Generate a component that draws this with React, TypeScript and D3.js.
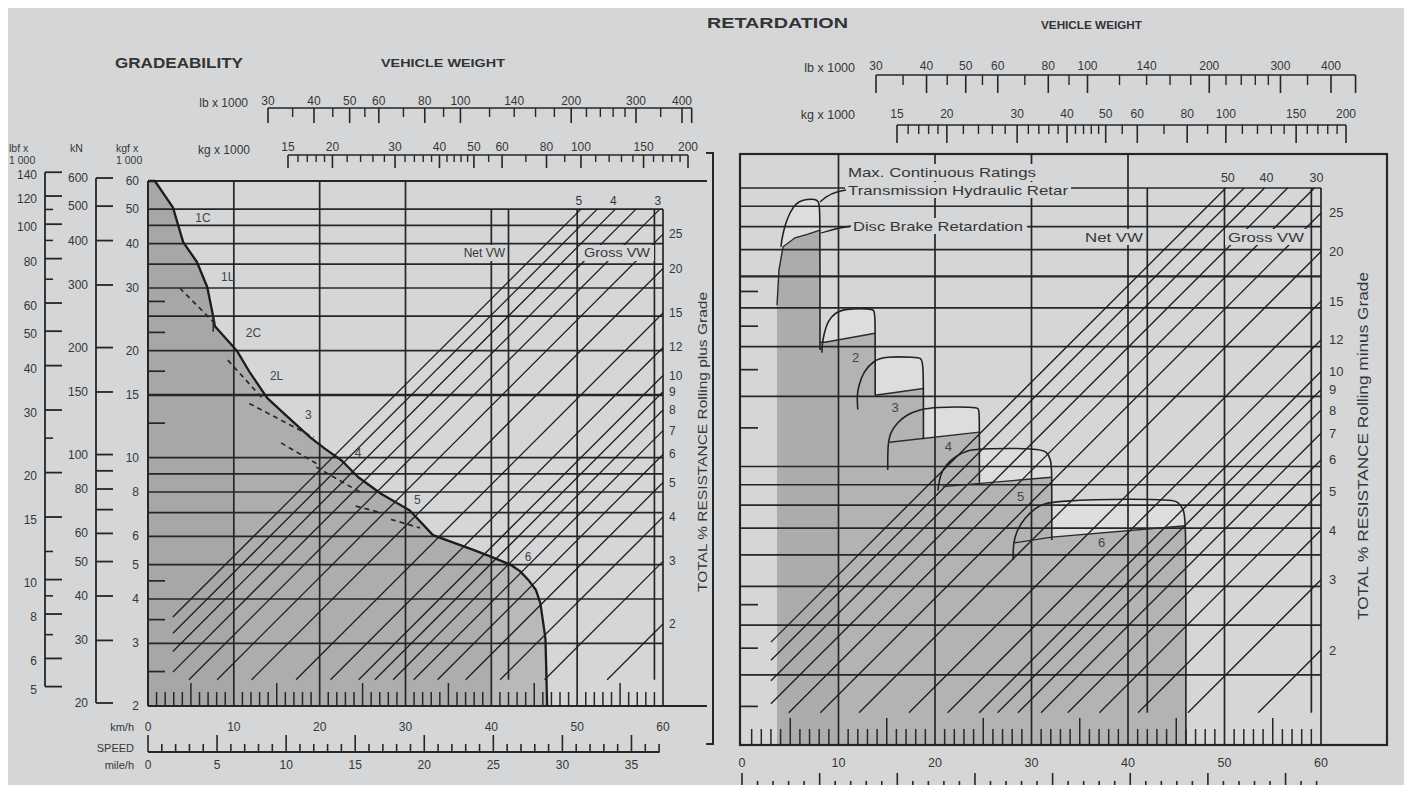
import React from "react";
import * as d3 from "d3";

type P = [number, number];

// ---------------- DATA ----------------
const kmhLabels = [0, 10, 20, 30, 40, 50, 60];
const mphLabels = [0, 5, 10, 15, 20, 25, 30, 35];
const gridForce = [50, 45, 40, 35, 30, 25, 20, 15, 10, 9, 8, 7, 6, 5, 4, 3];
const forceLabels = [60, 50, 40, 30, 20, 15, 10, 8, 6, 5, 4, 3, 2];
const forceMinor = [27.5, 22.5, 17.5, 12.5, 4.5, 3.5, 2.5];
const kNLabels = [600, 500, 400, 300, 200, 150, 100, 80, 60, 50, 40, 30, 20];
const kNMinor = [90, 70];
const lbfLabels = [140, 120, 100, 80, 60, 50, 40, 30, 20, 15, 10, 8, 6, 5];
const lbfMinor = [110, 90, 70, 25, 12, 9, 7];
const lbLabels = [30, 40, 50, 60, 80, 100, 140, 200, 300, 400];
const lbMajorTicks = [30, 40, 50, 60, 80, 100, 200, 300, 400];
const lbMinorTicks = [35, 45, 55, 70, 90, 120, 140, 160, 180, 220, 240, 260, 280, 350];
const kgLabels = [15, 20, 30, 40, 50, 60, 80, 100, 150, 200];
const kgMinorTicks = [16, 17, 18, 19, 22, 24, 26, 28, 32, 34, 36, 38, 42, 44, 46, 48, 55, 70, 90, 110, 120, 130, 140, 160, 170, 180, 190];
const resistancePct = [50, 45, 40, 35, 30, 25, 20, 15, 12, 10, 9, 8, 7, 6, 5, 4, 3, 2];
const resistanceSideLabels = [25, 20, 15, 12, 10, 9, 8, 7, 6, 5, 4, 3, 2];
const gradeTopLabels: [number, string][] = [[50, "5"], [40, "4"], [30, "3"]];
const retardTopLabels: [number, string][] = [[50, "50"], [40, "40"], [30, "30"]];

// Gradeability rimpull envelope (km/h, kgf x 1000)
const rimpullCurve: P[] = [
  [0, 60], [0.8, 60], [2.9, 50.6], [4.1, 40.4], [5.7, 35.5], [6.9, 30.2], [7.6, 24.9], [7.8, 23.4],
  [10.4, 19.9], [11.9, 17.3], [13.9, 14.7], [16.3, 13.0], [18.9, 11.4], [20.6, 10.6], [22.6, 9.8],
  [24.5, 8.8], [27.2, 7.9], [30.5, 7.1], [33.2, 6.05], [37.9, 5.5], [39.8, 5.28], [42.2, 5.0],
  [43.3, 4.8], [44.4, 4.5], [45.2, 4.24], [45.7, 3.9], [46.0, 3.49], [46.3, 3.1], [46.4, 2.53], [46.5, 2.0],
];
// Dashed (converter drive) segments
const converterSegments: P[][] = [
  [[3.7, 30.0], [7.6, 24.1]],
  [[9.3, 18.8], [13.3, 14.7]],
  [[11.8, 14.2], [19.3, 11.4]],
  [[15.5, 11.0], [20.0, 9.5]],
  [[19.6, 9.4], [24.9, 7.95]],
  [[24.2, 7.3], [26.8, 7.03]],
  [[28.3, 6.7], [31.7, 6.34]],
];
const shiftMark: P[] = [[7.6, 25.4], [7.6, 22.6]];
const gradeGearLabels: [string, number, number][] = [
  ["1C", 5.5, 47.2], ["1L", 8.5, 32.2], ["2C", 11.4, 22.4], ["2L", 14.2, 17.0],
  ["3", 18.3, 13.2], ["4", 24.1, 10.3], ["5", 31.0, 7.6], ["6", 43.9, 5.25],
];

// Retardation: transmission hydraulic retarder outlines (km/h, kgf x 1000)
const hydraulicOutlines: P[][] = [
  [[4.04, 35.6], [4.15, 37.5], [4.46, 40.4], [4.97, 43.5], [5.6, 45.8], [6.32, 46.7], [7.25, 46.9], [7.77, 46.7], [7.98, 45.9], [8.08, 44.0], [8.08, 30], [8.08, 19.6]],
  [[8.29, 19.3], [8.29, 20.1], [8.5, 21.6], [8.9, 23.2], [9.64, 24.3], [10.67, 24.9], [13.26, 24.9], [13.7, 24.7], [13.8, 23.9], [13.8, 18], [13.8, 15.1]],
  [[12.0, 13.9], [11.9, 15.0], [12.1, 16.0], [12.6, 17.3], [13.6, 18.4], [14.8, 18.9], [18.1, 18.8], [18.5, 18.7], [18.8, 18.3], [18.8, 14], [18.8, 11.7]],
  [[15.1, 9.8], [15.1, 11.4], [15.4, 12.2], [16.1, 12.9], [17.1, 13.5], [18.4, 13.9], [20.0, 14.1], [24.1, 14.1], [24.5, 14.0], [24.6, 13.7], [24.6, 11], [24.6, 9.1]],
  [[20.3, 8.7], [20.5, 9.5], [21.1, 10.1], [22.1, 10.6], [23.4, 11.0], [25.0, 11.1], [30.7, 11.1], [31.6, 10.9], [32.0, 10.4], [32.1, 9.8], [32.1, 8], [32.1, 6.54]],
  [[28.1, 5.83], [28.1, 6.43], [28.5, 6.93], [29.3, 7.43], [30.4, 7.87], [31.7, 8.24], [44.4, 8.3], [45.2, 8.15], [45.8, 7.8], [46.0, 7.2], [46.0, 4], [46.0, 2.0]],
];
// Disc brake retardation tops per gear
const discBrakeTops: P[][] = [
  [[3.63, 25.4], [3.83, 31.1], [4.25, 35.6], [5.49, 37.5], [6.84, 38.3], [8.08, 39.2]],
  [[8.08, 20.5], [8.6, 20.5], [13.8, 21.6]],
  [[13.8, 15.1], [18.8, 15.7]],
  [[15.3, 11.5], [24.6, 12.2]],
  [[20.8, 8.9], [32.1, 9.4]],
  [[28.2, 6.43], [32.1, 6.65], [46.0, 7.1]],
];
const retardGearLabels: [string, number, number][] = [
  ["2", 11.4, 18.8], ["3", 15.5, 14.1], ["4", 21.0, 11.2], ["5", 28.5, 8.4], ["6", 36.9, 6.43],
];

// ---------------- STYLE ----------------
const FONT = "'Liberation Sans', Arial, Helvetica, sans-serif";
const INK = "#262626";
const TXT = "#363636";
const BG = "#d5d6d8";

const Txt = ({ x, y, children, size = 12, anchor = "middle", weight = "normal", fill = TXT, len, transform }: any) => (
  <text
    x={x}
    y={y}
    fontSize={size}
    textAnchor={anchor}
    fontWeight={weight}
    fill={fill}
    fontFamily={FONT}
    dominantBaseline="central"
    transform={transform}
    {...(len ? { textLength: len, lengthAdjust: "spacingAndGlyphs" } : {})}
  >
    {children}
  </text>
);

function diagonals(kgX: any, yS: any, xS: any, vMin: number, fMin: number, fMax: number) {
  const xMax = xS(60), xMin = xS(vMin);
  const wLeft = kgX.invert(xMin), wRight = kgX.invert(xMax);
  return resistancePct.map((r) => {
    const wlo = Math.max(wLeft, (fMin * 100) / r);
    const whi = Math.min(wRight, (fMax * 100) / r);
    return {
      r,
      x1: kgX(wlo), y1: yS((r * wlo) / 100),
      x2: kgX(whi), y2: yS((r * whi) / 100),
      rightY: yS((r * wRight) / 100),
    };
  });
}

export default function App() {
  const xL = d3.scaleLinear().domain([0, 60]).range([148, 663]);
  const yL = d3.scaleLog().domain([2, 60]).range([706, 181]);
  const kgXL = d3.scaleLog().domain([15, 200]).range([288, 688]);
  const lbXL = d3.scaleLog().domain([30, 400]).range([268, 682]);

  const xR = d3.scaleLinear().domain([0, 60]).range([742, 1321]);
  const yR = d3.scaleLog().domain([2, 50]).range([745, 188]);
  const kgXR = d3.scaleLog().domain([15, 200]).range([897, 1346]);
  const lbXR = d3.scaleLog().domain([30, 400]).range([876, 1331]);

  const mk = (xs: any, ys: any, curve: any = d3.curveLinear) =>
    d3.line<P>().x((d) => xs(d[0])).y((d) => ys(d[1])).curve(curve);

  const diagL = diagonals(kgXL, yL, xL, 2.9, 2.37, 50);
  const diagR = diagonals(kgXR, yR, xR, 3.0, 2.41, 50);

  const leftFill = mk(xL, yL)([...rimpullCurve, [0, 2]]) + "Z";
  const gearFills = discBrakeTops.map((t) => mk(xR, yR)([[t[0][0], 2], ...t, [t[t.length - 1][0], 2]]) + "Z");

  const speedTicks = d3.range(1, 60).filter((v) => v % 10 !== 0);
  const mphL = d3.range(0, 38).filter((m) => xL(m * 1.609344) <= 662);
  const mphR = d3.range(0, 38).filter((m) => xR(m * 1.609344) <= 1321);

  const gridStroke = 1.7;

  const weightAxis = (lbX: any, kgX: any, lbY: number, kgY: number, lbEnd: number, long: number, short: number, lbLong: number, lbShort: number, kgLabelY: number, lbLabelY: number) => (
    <g>
      <line x1={lbX(30)} x2={lbX(lbEnd)} y1={lbY} y2={lbY} stroke={INK} strokeWidth={1.6} />
      {[...lbMajorTicks, lbEnd].map((v) => (
        <line key={"lbM" + v} x1={lbX(v)} x2={lbX(v)} y1={lbY} y2={lbY + lbLong} stroke={INK} strokeWidth={1.6} />
      ))}
      {lbMinorTicks.map((v) => (
        <line key={"lbm" + v} x1={lbX(v)} x2={lbX(v)} y1={lbY} y2={lbY + lbShort} stroke={INK} strokeWidth={1.4} />
      ))}
      {lbLabels.map((v) => (
        <Txt key={"lbl" + v} x={lbX(v)} y={lbLabelY} size={12}>{v}</Txt>
      ))}
      <line x1={kgX(15)} x2={kgX(200)} y1={kgY} y2={kgY} stroke={INK} strokeWidth={1.6} />
      {kgLabels.map((v) => (
        <line key={"kgM" + v} x1={kgX(v)} x2={kgX(v)} y1={kgY} y2={kgY + long} stroke={INK} strokeWidth={1.6} />
      ))}
      {kgMinorTicks.map((v) => (
        <line key={"kgm" + v} x1={kgX(v)} x2={kgX(v)} y1={kgY} y2={kgY + short} stroke={INK} strokeWidth={1.4} />
      ))}
      {kgLabels.map((v) => (
        <Txt key={"kgl" + v} x={kgX(v)} y={kgLabelY} size={12}>{v}</Txt>
      ))}
    </g>
  );

  return (
    <svg width={1404} height={785} style={{ position: "absolute", left: 0, top: 0, display: "block" }}>
      <rect x={0} y={0} width={1404} height={785} fill="#ffffff" />
      <rect x={8} y={8} width={1396} height={777} fill={BG} />
      <defs>
        <clipPath id="clipL"><path d={leftFill} /></clipPath>
        <clipPath id="clipR">
          {gearFills.map((d, i) => <path key={i} d={d} />)}
        </clipPath>
      </defs>

      {/* ================= LEFT: GRADEABILITY ================= */}
      <Txt x={115} y={63} size={14} weight="bold" anchor="start" len={128} fill="#333">GRADEABILITY</Txt>
      <Txt x={381} y={63} size={11} weight="bold" anchor="start" len={124} fill="#333">VEHICLE WEIGHT</Txt>
      <Txt x={248} y={103} size={12} anchor="end">lb x 1000</Txt>
      <Txt x={250} y={150} size={12} anchor="end">kg x 1000</Txt>
      <Txt x={9} y={148} size={10.5} anchor="start">lbf x</Txt>
      <Txt x={9} y={160} size={10.5} anchor="start">1 000</Txt>
      <Txt x={70} y={148} size={10.5} anchor="start">kN</Txt>
      <Txt x={116} y={148} size={10.5} anchor="start">kgf x</Txt>
      <Txt x={116} y={160} size={10.5} anchor="start">1 000</Txt>
      {weightAxis(lbXL, kgXL, 108, 155, 425, 13, 7, 15, 9, 147, 101)}

      {/* fill */}
      <g clipPath="url(#clipL)">
        <rect x={xL(0)} y={yL(60)} width={xL(10) - xL(0)} height={yL(2) - yL(60)} fill="#a7a7a7" />
        <rect x={xL(10)} y={yL(60)} width={xL(40) - xL(10)} height={yL(2) - yL(60)} fill="#adadad" />
        <rect x={xL(40)} y={yL(60)} width={xL(50) - xL(40)} height={yL(2) - yL(60)} fill="#b9b9b9" />
      </g>

      {/* horizontal grid */}
      {gridForce.map((f) => (
        <line key={"gL" + f} x1={xL(0)} x2={xL(60)} y1={yL(f)} y2={yL(f)} stroke={INK} strokeWidth={f === 15 ? 2.3 : gridStroke} />
      ))}
      <line x1={xL(0)} x2={707} y1={yL(60)} y2={yL(60)} stroke={INK} strokeWidth={2} />
      <line x1={xL(0)} x2={707} y1={yL(2)} y2={yL(2)} stroke={INK} strokeWidth={2.2} />
      <line x1={xL(0)} x2={xL(0)} y1={yL(60)} y2={yL(2)} stroke={INK} strokeWidth={2} />
      {forceMinor.map((f) => (
        <line key={"mL" + f} x1={xL(0)} x2={xL(0) + 17} y1={yL(f)} y2={yL(f)} stroke={INK} strokeWidth={1.7} />
      ))}
      {/* verticals */}
      {[10, 20, 30].map((v) => (
        <line key={"vL" + v} x1={xL(v)} x2={xL(v)} y1={yL(60)} y2={yL(2)} stroke={INK} strokeWidth={gridStroke} />
      ))}
      {[40, 50, 60].map((v) => (
        <line key={"vL" + v} x1={xL(v)} x2={xL(v)} y1={yL(50)} y2={yL(2)} stroke={INK} strokeWidth={gridStroke} />
      ))}
      {[42, 59].map((v) => (
        <line key={"vL" + v} x1={xL(v)} x2={xL(v)} y1={yL(50)} y2={yL(2.37)} stroke={INK} strokeWidth={gridStroke} />
      ))}
      {/* speed ticks */}
      {speedTicks.map((v) => (
        <line key={"sL" + v} x1={xL(v)} x2={xL(v)} y1={yL(2)} y2={yL(2) - (v % 5 === 0 ? 23 : 14)} stroke={INK} strokeWidth={1.5} />
      ))}
      {/* diagonals */}
      {diagL.map((d) => (
        <line key={"dL" + d.r} x1={d.x1} y1={d.y1} x2={d.x2} y2={d.y2} stroke="#1e1e1e" strokeWidth={1.3} />
      ))}
      {gradeTopLabels.map(([r, t]) => (
        <Txt key={"tL" + r} x={kgXL(5000 / r) - 2} y={yL(50) - 8} size={12}>{t}</Txt>
      ))}
      {diagL.filter((d) => resistanceSideLabels.includes(d.r)).map((d) => (
        <Txt key={"rL" + d.r} x={669} y={d.rightY} size={12} anchor="start">{d.r}</Txt>
      ))}
      {/* Net / Gross VW */}
      <rect x={453} y={245} width={54} height={16} fill={BG} />
      <Txt x={505} y={253} size={12} anchor="end">Net VW</Txt>
      <rect x={581} y={245} width={73} height={16} fill={BG} />
      <Txt x={584} y={253} size={12} anchor="start" len={66}>Gross VW</Txt>

      {/* curves */}
      <path d={mk(xL, yL)(rimpullCurve) || ""} fill="none" stroke="#1c1c1c" strokeWidth={2.3} strokeLinejoin="round" />
      {converterSegments.map((s, i) => (
        <path key={"cs" + i} d={mk(xL, yL)(s) || ""} fill="none" stroke="#2a2a2a" strokeWidth={1.7} strokeDasharray="5,4" />
      ))}
      <path d={mk(xL, yL)(shiftMark) || ""} stroke="#2a2a2a" strokeWidth={1.5} />
      {gradeGearLabels.map(([t, v, f]) => (
        <Txt key={"gg" + t} x={xL(v)} y={yL(f)} size={12} anchor="start" fill="#444">{t}</Txt>
      ))}

      {/* left axes */}
      {forceLabels.map((f) => (
        <Txt key={"fl" + f} x={139} y={yL(f)} size={12} anchor="end">{f}</Txt>
      ))}
      <line x1={96} x2={96} y1={yL(600 / 9.807)} y2={yL(20 / 9.807)} stroke={INK} strokeWidth={1.8} />
      {[...kNLabels, ...kNMinor].map((v) => (
        <line key={"kn" + v} x1={96} x2={113} y1={yL(v / 9.807)} y2={yL(v / 9.807)} stroke={INK} strokeWidth={1.8} />
      ))}
      {kNLabels.map((v) => (
        <Txt key={"knl" + v} x={88} y={yL(v / 9.807)} size={12} anchor="end">{v}</Txt>
      ))}
      <line x1={45} x2={45} y1={yL(140 * 0.45359)} y2={yL(5 * 0.45359)} stroke={INK} strokeWidth={1.8} />
      {lbfLabels.map((v) => (
        <line key={"lbf" + v} x1={45} x2={62} y1={yL(v * 0.45359)} y2={yL(v * 0.45359)} stroke={INK} strokeWidth={1.8} />
      ))}
      {lbfMinor.map((v) => (
        <line key={"lbfm" + v} x1={45} x2={53} y1={yL(v * 0.45359)} y2={yL(v * 0.45359)} stroke={INK} strokeWidth={1.6} />
      ))}
      {lbfLabels.map((v) => (
        <Txt key={"lbfl" + v} x={37} y={yL(v * 0.45359) + 3} size={12} anchor="end">{v}</Txt>
      ))}

      {/* bottom speed axes */}
      {kmhLabels.map((v) => (
        <Txt key={"kmL" + v} x={xL(v)} y={727} size={12}>{v}</Txt>
      ))}
      <Txt x={134} y={727} size={11} anchor="end">km/h</Txt>
      <Txt x={134} y={748} size={11} anchor="end">SPEED</Txt>
      <Txt x={134} y={765} size={11} anchor="end">mile/h</Txt>
      <line x1={xL(0)} x2={xL(59.6)} y1={752} y2={752} stroke={INK} strokeWidth={1.8} />
      {mphL.map((m) => (
        <line key={"mpL" + m} x1={xL(m * 1.609344)} x2={xL(m * 1.609344)} y1={752} y2={752 - (m % 5 === 0 ? 17 : 8)} stroke={INK} strokeWidth={1.6} />
      ))}
      {mphLabels.map((m) => (
        <Txt key={"mlL" + m} x={xL(m * 1.609344)} y={765} size={12}>{m}</Txt>
      ))}

      {/* right side title + bracket */}
      <Txt x={703} y={442} size={12.5} len={300} transform="rotate(-90 703 442)">TOTAL % RESISTANCE Rolling plus Grade</Txt>
      <path d="M706,153 H713 V744 H706" fill="none" stroke={INK} strokeWidth={2} />

      {/* ================= RIGHT: RETARDATION ================= */}
      <Txt x={707} y={23} size={14} weight="bold" anchor="start" len={141} fill="#333">RETARDATION</Txt>
      <Txt x={1041} y={25} size={11} weight="bold" anchor="start" len={101} fill="#333">VEHICLE WEIGHT</Txt>
      <Txt x={855} y={68} size={12.5} anchor="end">lb x 1000</Txt>
      <Txt x={855} y={115} size={12.5} anchor="end">kg x 1000</Txt>
      {weightAxis(lbXR, kgXR, 75, 125, 460, 18, 9, 18, 10, 114, 66)}

      {/* light interiors of hydraulic retarder outlines */}
      {hydraulicOutlines.map((o, i) => (
        <path key={"hi" + i} d={(mk(xR, yR, d3.curveBasis)(o) || "") + "Z"} fill="#dcdddf" stroke="none" />
      ))}
      {/* fills */}
      <g clipPath="url(#clipR)">
        <rect x={xR(0)} y={yR(50)} width={xR(10) - xR(0)} height={yR(2) - yR(50)} fill="#acacac" />
        <rect x={xR(10)} y={yR(50)} width={xR(50) - xR(10)} height={yR(2) - yR(50)} fill="#b3b3b3" />
      </g>

      {gridForce.map((f) => (
        <line key={"gR" + f} x1={740} x2={xR(60)} y1={yR(f)} y2={yR(f)} stroke={INK} strokeWidth={f === 30 ? 2.3 : gridStroke} />
      ))}
      {forceMinor.map((f) => (
        <line key={"mR" + f} x1={740} x2={758} y1={yR(f)} y2={yR(f)} stroke={INK} strokeWidth={1.7} />
      ))}
      {[10, 20, 30, 40].map((v) => (
        <line key={"vR" + v} x1={xR(v)} x2={xR(v)} y1={154} y2={yR(2)} stroke={INK} strokeWidth={gridStroke} />
      ))}
      {[50, 60].map((v) => (
        <line key={"vR" + v} x1={xR(v)} x2={xR(v)} y1={yR(50)} y2={yR(2)} stroke={INK} strokeWidth={gridStroke} />
      ))}
      {[42, 59].map((v) => (
        <line key={"vR" + v} x1={xR(v)} x2={xR(v)} y1={yR(50)} y2={yR(2.41)} stroke={INK} strokeWidth={gridStroke} />
      ))}
      {speedTicks.map((v) => (
        <line key={"sR" + v} x1={xR(v)} x2={xR(v)} y1={yR(2)} y2={yR(2) - (v % 5 === 0 ? 27 : 16)} stroke={INK} strokeWidth={1.5} />
      ))}
      {diagR.map((d) => (
        <line key={"dR" + d.r} x1={d.x1} y1={d.y1} x2={d.x2} y2={d.y2} stroke="#1e1e1e" strokeWidth={1.35} />
      ))}
      {retardTopLabels.map(([r, t]) => (
        <Txt key={"tR" + r} x={kgXR(5000 / r) + 2} y={yR(50) - 10} size={12.5}>{t}</Txt>
      ))}
      {diagR.filter((d) => resistanceSideLabels.includes(d.r)).map((d) => (
        <Txt key={"rR" + d.r} x={1329} y={d.rightY} size={13} anchor="start">{d.r}</Txt>
      ))}

      {/* gear curves */}
      {discBrakeTops.map((t, i) => (
        <path key={"db" + i} d={mk(xR, yR)(t) || ""} fill="none" stroke="#2a2a2a" strokeWidth={1.4} />
      ))}
      {hydraulicOutlines.map((o, i) => (
        <path key={"ho" + i} d={mk(xR, yR, d3.curveBasis)(o) || ""} fill="none" stroke="#222" strokeWidth={1.6} />
      ))}
      {retardGearLabels.map(([t, v, f]) => (
        <Txt key={"rg" + t} x={xR(v)} y={yR(f)} size={13} anchor="start" fill="#444">{t}</Txt>
      ))}

      {/* annotations */}
      <rect x={845} y={164} width={195} height={17} fill={BG} />
      <rect x={845} y={182} width={226} height={16} fill={BG} />
      <rect x={850} y={218} width={177} height={16} fill={BG} />
      <Txt x={848} y={172} size={13} anchor="start" len={188}>Max. Continuous Ratings</Txt>
      <Txt x={848} y={190} size={13} anchor="start" len={220}>Transmission Hydraulic Retar</Txt>
      <Txt x={853} y={226} size={13} anchor="start" len={170}>Disc Brake Retardation</Txt>
      <path d="M846,190 Q830,192 820,202" fill="none" stroke="#222" strokeWidth={1.3} />
      <path d="M851,226 Q836,228 821,233" fill="none" stroke="#222" strokeWidth={1.3} />
      <rect x={1081} y={229} width={64} height={16} fill={BG} />
      <Txt x={1143} y={237} size={13} anchor="end" len={58}>Net VW</Txt>
      <rect x={1225} y={229} width={84} height={16} fill={BG} />
      <Txt x={1228} y={237} size={13} anchor="start" len={76}>Gross VW</Txt>

      {/* box */}
      <rect x={740} y={154} width={647} height={591} fill="none" stroke={INK} strokeWidth={2.2} />
      <Txt x={1363} y={446} size={14} len={348} transform="rotate(-90 1363 446)">TOTAL % RESISTANCE Rolling minus Grade</Txt>

      {/* bottom speed axis */}
      {kmhLabels.map((v) => (
        <Txt key={"kmR" + v} x={xR(v)} y={763} size={12.5}>{v}</Txt>
      ))}
      <line x1={xR(0)} x2={xR(59.6)} y1={788} y2={788} stroke={INK} strokeWidth={1.8} />
      {mphR.map((m) => (
        <line key={"mpR" + m} x1={xR(m * 1.609344)} x2={xR(m * 1.609344)} y1={788} y2={788 - (m % 5 === 0 ? 15 : 7)} stroke={INK} strokeWidth={1.6} />
      ))}
    </svg>
  );
}
